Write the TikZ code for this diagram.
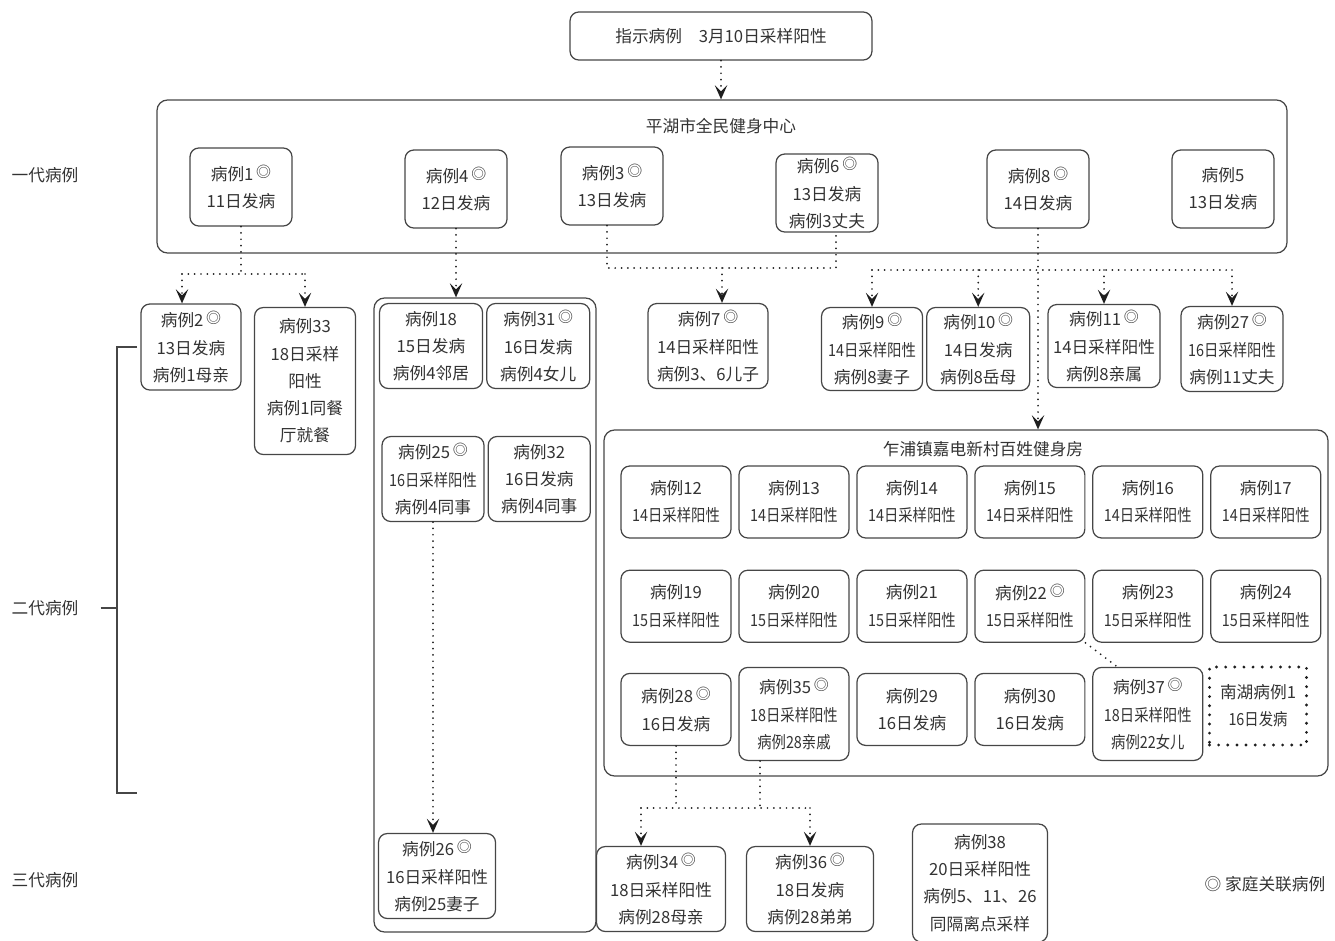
\documentclass[tikz,border=0pt]{standalone}
\usepackage{fontspec}
\setmainfont{Noto Sans CJK SC}
\newfontfamily\narrowfont{Noto Sans CJK SC}[FakeStretch=0.86]
\usepackage{xcolor}
\usepackage{tikz}
\usetikzlibrary{arrows.meta,positioning,fit}
\definecolor{ink}{HTML}{333333}
\definecolor{rim}{HTML}{464646}
\definecolor{dots}{HTML}{1E1E1E}
\newcommand{\famlink}{\,\raisebox{0.35ex}{\fontsize{8.5}{8.5}\selectfont ◎}}
\tikzset{
  casebox/.style={
    rectangle, rounded corners=5pt, draw=rim, line width=0.7pt,
    text=ink, font=\fontsize{9.5}{15.5}\selectfont, align=center,
    minimum width=2.04cm, minimum height=1.56cm, inner sep=1pt
  },
  gymbox/.style={casebox, minimum width=2.2cm, minimum height=1.44cm,
    inner sep=0pt},
  areabox/.style={rectangle, rounded corners=6pt, draw=rim, line width=0.7pt,
    inner sep=0pt},
  areatitle/.style={text=ink, font=\fontsize{9.5}{15.5}\selectfont},
  genlabel/.style={text=ink, font=\fontsize{9.5}{15.5}\selectfont},
  nanhubox/.style={rectangle, draw=dots, line width=1.8pt,
    dash pattern=on 0pt off 5.2pt, line cap=round,
    text=ink, font=\fontsize{9.5}{15.5}\selectfont, align=center,
    minimum width=1.94cm, minimum height=1.56cm, inner sep=1pt},
  dotline/.style={draw=dots, line width=1.1pt, dash pattern=on 0pt off 3.6pt,
    line cap=round},
  flow/.style={dotline, -{Stealth[length=8pt, width=7pt, inset=3.5pt]}},
  bracket/.style={draw=rim, line width=0.7pt},
}

\begin{document}
\begin{tikzpicture}[x=0.02cm, y=-0.02cm, node distance=0.135cm]
    \useasboundingbox (0,0) rectangle (1335,940);

    \node[genlabel] (gen1) at (45,175) {一代病例};
    \node[genlabel] (gen2) at (45,608) {二代病例};
    \node[genlabel] (gen3) at (45,880) {三代病例};

    \node[casebox, minimum width=6.04cm, minimum height=0.96cm] (index) at (721,36)
        {指示病例\quad 3月10日采样阳性};

    % first generation
    \node[areabox, fit={(157,100) (1287,253)}] (pinghu) {};
    \node[areatitle] (pinghutitle) at (721,126) {平湖市全民健身中心};
    \node[casebox] (c1) at (241,187) {病例1\famlink\\11日发病};
    \node[casebox] (c4) at (456,189) {病例4\famlink\\12日发病};
    \node[casebox] (c3) at (612,186) {病例3\famlink\\13日发病};
    \node[casebox] (c6) at (827,193) {病例6\famlink\\13日发病\\病例3丈夫};
    \node[casebox] (c8) at (1038,189) {病例8\famlink\\14日发病};
    \node[casebox] (c5) at (1223,189) {病例5\\13日发病};

    % second generation
    \node[casebox, minimum width=2cm, minimum height=1.72cm] (c2) at (191,347)
        {病例2\famlink\\13日发病\\病例1母亲};
    \node[casebox, minimum width=2.02cm, minimum height=2.94cm] (c33) at (305,381)
        {病例33\\18日采样\\阳性\\病例1同餐\\厅就餐};

    \node[areabox, fit={(374,298) (596,932)}] (grp4) {};
    \node[casebox, minimum width=2.06cm, minimum height=1.7cm] (c18) at (431,346)
        {病例18\\15日发病\\病例4邻居};
    \node[casebox, minimum width=2.06cm, minimum height=1.7cm, right=0.06cm of c18] (c31)
        {病例31\famlink\\16日发病\\病例4女儿};
    \node[casebox, minimum width=2.04cm, minimum height=1.7cm] (c25) at (433,479)
        {病例25\famlink\\{\narrowfont 16日采样阳性}\\病例4同事};
    \node[casebox, minimum width=2.04cm, minimum height=1.7cm, right=0.06cm of c25] (c32)
        {病例32\\16日发病\\病例4同事};

    \node[casebox, minimum width=2.4cm, minimum height=1.7cm] (c7) at (708,346)
        {病例7\famlink\\14日采样阳性\\病例3、6儿子};
    \node[casebox, minimum width=2.02cm, minimum height=1.66cm] (c9) at (872,349)
        {病例9\famlink\\{\narrowfont 14日采样阳性}\\病例8妻子};
    \node[casebox, minimum width=2.06cm, minimum height=1.66cm, right=0.06cm of c9] (c10)
        {病例10\famlink\\14日发病\\病例8岳母};
    \node[casebox, minimum width=2.24cm, minimum height=1.66cm] (c11) at (1104,346)
        {病例11\famlink\\14日采样阳性\\病例8亲属};
    \node[casebox, minimum width=2.04cm, minimum height=1.7cm] (c27) at (1232,349)
        {病例27\famlink\\{\narrowfont 16日采样阳性}\\病例11丈夫};

    \node[areabox, fit={(604,430) (1328,776)}] (jiadian) {};
    \node[areatitle] (jiadiantitle) at (983,449) {乍浦镇嘉电新村百姓健身房};
    \node[gymbox] (c12) at (676,502) {病例12\\{\narrowfont 14日采样阳性}};
    \node[gymbox, right=of c12] (c13) {病例13\\{\narrowfont 14日采样阳性}};
    \node[gymbox, right=of c13] (c14) {病例14\\{\narrowfont 14日采样阳性}};
    \node[gymbox, right=of c14] (c15) {病例15\\{\narrowfont 14日采样阳性}};
    \node[gymbox, right=of c15] (c16) {病例16\\{\narrowfont 14日采样阳性}};
    \node[gymbox, right=of c16] (c17) {病例17\\{\narrowfont 14日采样阳性}};
    \node[gymbox, below=0.62cm of c12] (c19) {病例19\\{\narrowfont 15日采样阳性}};
    \node[gymbox, right=of c19] (c20) {病例20\\{\narrowfont 15日采样阳性}};
    \node[gymbox, right=of c20] (c21) {病例21\\{\narrowfont 15日采样阳性}};
    \node[gymbox, right=of c21] (c22) {病例22\famlink\\{\narrowfont 15日采样阳性}};
    \node[gymbox, right=of c22] (c23) {病例23\\{\narrowfont 15日采样阳性}};
    \node[gymbox, right=of c23] (c24) {病例24\\{\narrowfont 15日采样阳性}};
    \node[gymbox, below=0.6cm of c19] (c28) {病例28\famlink\\16日发病};
    \node[gymbox, minimum height=1.86cm, below=0.48cm of c20] (c35)
        {病例35\famlink\\{\narrowfont 18日采样阳性}\\{\narrowfont 病例28亲戚}};
    \node[gymbox, below=0.6cm of c21] (c29) {病例29\\16日发病};
    \node[gymbox, below=0.6cm of c22] (c30) {病例30\\16日发病};
    \node[gymbox, minimum height=1.86cm, below=0.48cm of c23] (c37)
        {病例37\famlink\\{\narrowfont 18日采样阳性}\\{\narrowfont 病例22女儿}};
    \node[nanhubox] (nanhu) at (1258,706) {南湖病例1\\{\narrowfont 16日发病}};

    % third generation
    \node[casebox, minimum width=2.34cm, minimum height=1.7cm] (c26) at (437,876)
        {病例26\famlink\\16日采样阳性\\病例25妻子};
    \node[casebox, minimum width=2.58cm, minimum height=1.7cm] (c34) at (661,889)
        {病例34\famlink\\18日采样阳性\\病例28母亲};
    \node[casebox, minimum width=2.54cm, minimum height=1.7cm] (c36) at (810,889)
        {病例36\famlink\\18日发病\\病例28弟弟};
    \node[casebox, minimum width=2.7cm, minimum height=2.36cm] (c38) at (980,883)
        {病例38\\20日采样阳性\\病例5、11、26\\同隔离点采样};
    \node[genlabel] (legend) at (1265,884) {◎ 家庭关联病例};

    % bracket of the second generation
    \coordinate (brtop) at (137,347);
    \coordinate (brbot) at (137,793);
    \coordinate (brmid) at (117,608);
    \draw[bracket] (brtop) -- ++(-20,0) |- (brbot);
    \draw[bracket] ([xshift=0.32cm]gen2.east) -- (brmid);

    % transmission links
    \draw[flow] (index.south) -- (index.south |- pinghu.north);

    \coordinate (j1) at (241,274);
    \draw[dotline] (c1.south) -- (j1);
    \draw[dotline] ([xshift=-0.18cm]c2.north |- j1) -- (c33.north |- j1);
    \draw[flow] ([xshift=-0.18cm]c2.north |- j1) -- ([xshift=-0.18cm]c2.north);
    \draw[flow] (c33.north |- j1) -- (c33.north);

    \draw[flow] (c4.south) -- (c4.south |- grp4.north);

    \coordinate (j3) at (722,268);
    \draw[dotline] ([xshift=-0.1cm]c3.south) |- ([xshift=0.18cm]c6.south |- j3)
        -- ([xshift=0.18cm]c6.south);
    \draw[flow] (j3) -- (j3 |- c7.north);

    \coordinate (j8) at (1038,270);
    \draw[dotline] (c9.north |- j8) -- (c27.north |- j8);
    \draw[flow] (c8.south) -- (c8.south |- jiadian.north);
    \draw[flow] (c9.north |- j8) -- (c9.north);
    \draw[flow] (c10.north |- j8) -- (c10.north);
    \draw[flow] (c11.north |- j8) -- (c11.north);
    \draw[flow] (c27.north |- j8) -- (c27.north);

    \draw[flow] (c25.south) -- (c25.south |- c26.north);

    \draw[dotline] (c22.south east) -- ([xshift=0.5cm]c37.north west);

    \coordinate (j28) at (676,808);
    \coordinate (j35) at (760,808);
    \draw[dotline] (c28.south) -- (j28);
    \draw[dotline] (c35.south -| j35) -- (j35);
    \draw[dotline] ([xshift=-0.4cm]c34.north |- j28) -- (c36.north |- j28);
    \draw[flow] ([xshift=-0.4cm]c34.north |- j28) -- ([xshift=-0.4cm]c34.north);
    \draw[flow] (c36.north |- j28) -- (c36.north);
\end{tikzpicture}
\end{document}
